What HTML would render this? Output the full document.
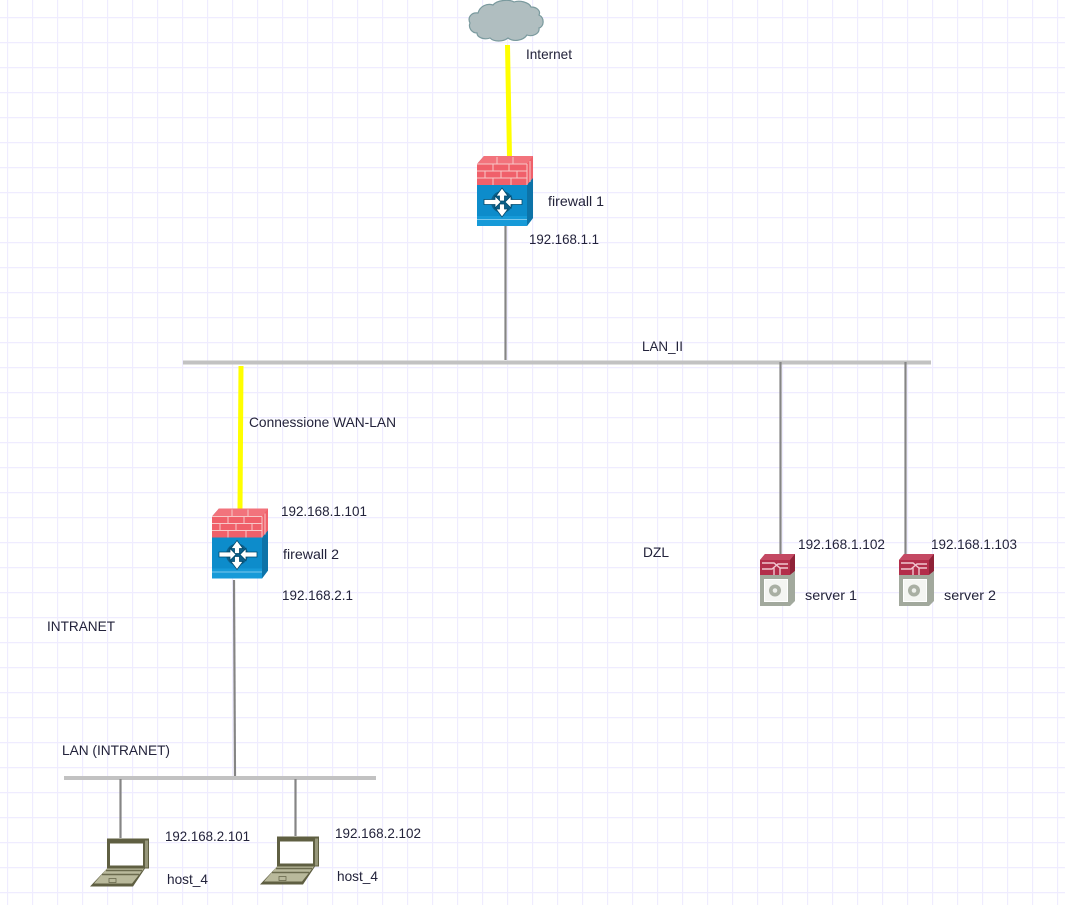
<!DOCTYPE html>
<html>
<head>
<meta charset="utf-8">
<style>
html,body{margin:0;padding:0;background:#fff;width:1065px;height:905px;overflow:hidden}
svg{display:block}
text{font-family:"Liberation Sans",sans-serif;font-size:14px;fill:#24243a}
</style>
</head>
<body>
<svg width="1065" height="905" viewBox="0 0 1065 905" xmlns="http://www.w3.org/2000/svg">
<defs>
<filter id="b" x="-5%" y="-5%" width="110%" height="110%"><feGaussianBlur stdDeviation="0.35"/></filter>
<pattern id="g" width="25" height="25" patternUnits="userSpaceOnUse" x="-18" y="-8">
<path d="M0.5 0V25M0 0.5H25" stroke="#efecff" stroke-width="1.4" fill="none"/>
</pattern>
<g id="fw">
<path d="M0 8L7 0H56V62L50 70H0Z" fill="#0b8ccb"/>
<path d="M50 29L56 22V62L50 70Z" fill="#0873a8"/>
<rect x="0" y="60" width="50" height="10" fill="#159ad8"/>
<path d="M0 63.5H50" stroke="#7cc8ec" stroke-width="1"/>
<path d="M0 8L7 0H56V22L50 29H0Z" fill="#f0606a"/>
<path d="M0 8L7 0H56L50 8Z" fill="#f2737b"/>
<path d="M0 8H50M0 15H50M0 22H50M50 8V29M53 5V26" stroke="#f7c8c8" stroke-width="1" fill="none"/>
<path d="M16 8V15M32 8V15M8 15V22M24 15V22M40 15V22M16 22V29M34 22V29M20 1V8M36 1V8" stroke="#f7c8c8" stroke-width="1"/>
<circle cx="25" cy="46" r="11" fill="#075f8a"/>
<g fill="#fff" stroke="#064a6c" stroke-width="0.8">
<path d="M25 32L31 40H27.500V45H22.500V40H19Z"/>
<path d="M25 61L31 53H27.500V48H22.500V53H19Z"/>
<path d="M7 43.500H18V40L24 46L18 52V48.500H7Z"/>
<path d="M45 43.500H34V40L28 46L34 52V48.500H45Z"/>
</g>
</g>
<g id="srv">
<path d="M0 6L5 0H35V17L30 21H0Z" fill="#b32f4c"/>
<path d="M0 6L5 0H35L30 6Z" fill="#c44a64"/>
<path d="M30 6L35 0V17L30 21Z" fill="#8f2039"/>
<path d="M2 9H14L20 14H28M2 15H12L18 10H28M14 14V21M20 14V21" stroke="#f0c5cf" stroke-width="1.400" fill="none"/>
<path d="M0 21H30L35 17V47L30 52H0Z" fill="#a2a99d"/>
<rect x="4" y="25" width="24" height="23" fill="#fff"/>
<path d="M5 26H27V47H5Z" fill="#f4f5f2"/>
<circle cx="15" cy="36.500" r="6" fill="#a9afa3"/>
<circle cx="15" cy="36.500" r="2.300" fill="#eef0ec"/>
</g>
<g id="lap">
<path d="M17 0H59V30H55L43 48H0L17 30Z" fill="#5e5e42"/>
<rect x="20" y="5" width="33" height="22" fill="#fff"/>
<path d="M55 2H58V29H55Z" fill="#97977a"/>
<path d="M17 30H54L42 45H4Z" fill="#b9b99b"/>
<path d="M16 32H52M12 36H49" stroke="#6a6a4e" stroke-width="1.400"/>
<rect x="19" y="40" width="7" height="4" fill="#b9b99b" stroke="#5e5e42" stroke-width="0.7"/>
</g>
</defs>

<rect width="1065" height="905" fill="#fff"/>
<rect width="1065" height="905" fill="url(#g)"/>

<g filter="url(#b)">
<path d="M470 23C467 17 472 12 478 13C480 6 487 3 493 5C497 0 509 -1 514 2C519 0 529 2 531 7C537 7 541 11 539 15C545 18 544 27 539 28C540 34 532 37 527 35C523 41 513 42 508 38C503 42 494 42 490 38C485 40 477 38 477 33C472 33 468 28 470 23Z" fill="#b0bec0" stroke="#7a9a9e" stroke-width="1.200"/>

<line x1="507.500" y1="45" x2="509.500" y2="157" stroke="#ffff00" stroke-width="5"/>
<line x1="505.500" y1="226" x2="505.500" y2="360" stroke="#858585" stroke-width="2.200"/>
<line x1="183" y1="362.500" x2="931" y2="362.500" stroke="#c2c2c2" stroke-width="4"/>
<line x1="241" y1="366" x2="240" y2="509" stroke="#ffff00" stroke-width="5"/>
<line x1="780.500" y1="362" x2="780.500" y2="554" stroke="#858585" stroke-width="2.200"/>
<line x1="905.500" y1="362" x2="905.500" y2="554" stroke="#858585" stroke-width="2.200"/>
<line x1="234" y1="580" x2="235" y2="776" stroke="#858585" stroke-width="2.200"/>
<line x1="64" y1="778" x2="376" y2="778" stroke="#c2c2c2" stroke-width="4"/>
<line x1="120.500" y1="779" x2="120.500" y2="838" stroke="#858585" stroke-width="2.200"/>
<line x1="295.500" y1="779" x2="295.500" y2="836" stroke="#858585" stroke-width="2.200"/>

<use href="#fw" x="477" y="156"/>
<use href="#fw" x="212" y="508.500"/>
<use href="#srv" x="760" y="554"/>
<use href="#srv" x="899" y="554"/>
<use href="#lap" x="90" y="838.500"/>
<use href="#lap" x="260" y="836.500"/>

<text x="526" y="59" textLength="46" lengthAdjust="spacingAndGlyphs">Internet</text>
<text x="548" y="206" textLength="56" lengthAdjust="spacingAndGlyphs">firewall 1</text>
<text x="529" y="244" textLength="70" lengthAdjust="spacingAndGlyphs">192.168.1.1</text>
<text x="642" y="351" textLength="41" lengthAdjust="spacingAndGlyphs">LAN_II</text>
<text x="249" y="427" textLength="147" lengthAdjust="spacingAndGlyphs">Connessione WAN-LAN</text>
<text x="281" y="516" textLength="86" lengthAdjust="spacingAndGlyphs">192.168.1.101</text>
<text x="283" y="559" textLength="56" lengthAdjust="spacingAndGlyphs">firewall 2</text>
<text x="282" y="600" textLength="71" lengthAdjust="spacingAndGlyphs">192.168.2.1</text>
<text x="643" y="557" textLength="26" lengthAdjust="spacingAndGlyphs">DZL</text>
<text x="798" y="549" textLength="87" lengthAdjust="spacingAndGlyphs">192.168.1.102</text>
<text x="931" y="549" textLength="86" lengthAdjust="spacingAndGlyphs">192.168.1.103</text>
<text x="805" y="600" textLength="52" lengthAdjust="spacingAndGlyphs">server 1</text>
<text x="944" y="600" textLength="52" lengthAdjust="spacingAndGlyphs">server 2</text>
<text x="47" y="631" textLength="68" lengthAdjust="spacingAndGlyphs">INTRANET</text>
<text x="62" y="755" textLength="108" lengthAdjust="spacingAndGlyphs">LAN (INTRANET)</text>
<text x="165" y="841" textLength="85" lengthAdjust="spacingAndGlyphs">192.168.2.101</text>
<text x="335" y="838" textLength="86" lengthAdjust="spacingAndGlyphs">192.168.2.102</text>
<text x="167" y="884" textLength="41" lengthAdjust="spacingAndGlyphs">host_4</text>
<text x="337" y="881" textLength="41" lengthAdjust="spacingAndGlyphs">host_4</text>
</g>
</svg>
</body>
</html>
